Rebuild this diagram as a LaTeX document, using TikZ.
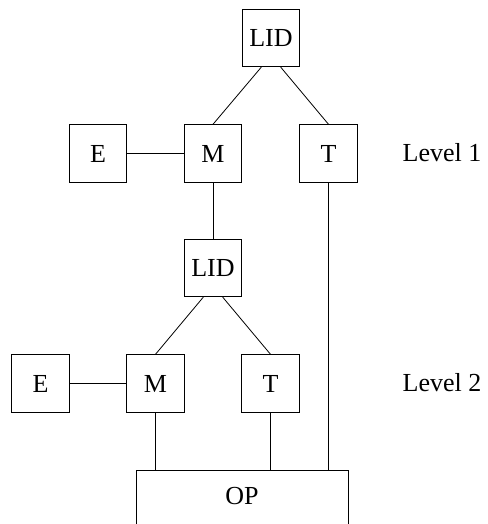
\documentclass[tikz,border=0pt]{standalone}
\usepackage{fontspec}
\setmainfont{Liberation Serif}
\usetikzlibrary{calc}
\begin{document}
\begin{tikzpicture}[x=1pt,y=-1pt,
  box/.style={draw,line width=0.9pt,minimum size=57.5pt,inner sep=0pt,font=\fontsize{26}{30}\selectfont},
  lbl/.style={inner sep=0pt,font=\fontsize{26}{30}\selectfont},
  conn/.style={line width=0.8pt}]
\useasboundingbox (0,0) rectangle (487,524);
\node[box] (LIDa) at (271,38) {LID};
\node[box] (Ea) at (98,153.5) {E};
\node[box] (Ma) at (213,153.5) {M};
\node[box] (Ta) at (328.5,153.5) {T};
\node[lbl] (La) at (442,153) {Level 1};
\node[box] (LIDb) at (213,268) {LID};
\node[box] (Eb) at (40.5,383.5) {E};
\node[box] (Mb) at (155.5,383.5) {M};
\node[box] (Tb) at (270.5,383.5) {T};
\node[lbl] (Lb) at (442,383) {Level 2};
\coordinate (OPtop) at (242,470);
\coordinate (OPbl) at (136,526);
\coordinate (OPbr) at (348,526);
\draw[line width=0.9pt] (OPbl) -- (OPbl |- OPtop) -- (OPbr |- OPtop) -- (OPbr);
\node[lbl] (OP) at (242,496) {OP};
\draw[conn] (Ea) -- (Ma);
\draw[conn] (Eb) -- (Mb);
\draw[conn] (Ma) -- (LIDb);
\draw[conn] ($(LIDa.south west)!1/3!(LIDa.south east)$) -- (Ma.north);
\draw[conn] ($(LIDa.south west)!2/3!(LIDa.south east)$) -- (Ta.north);
\draw[conn] ($(LIDb.south west)!1/3!(LIDb.south east)$) -- (Mb.north);
\draw[conn] ($(LIDb.south west)!2/3!(LIDb.south east)$) -- (Tb.north);
\draw[conn] (Mb.south) -- (Mb.south |- OPtop);
\draw[conn] (Tb.south) -- (Tb.south |- OPtop);
\draw[conn] (Ta.south) -- (Ta.south |- OPtop);
\end{tikzpicture}
\end{document}
